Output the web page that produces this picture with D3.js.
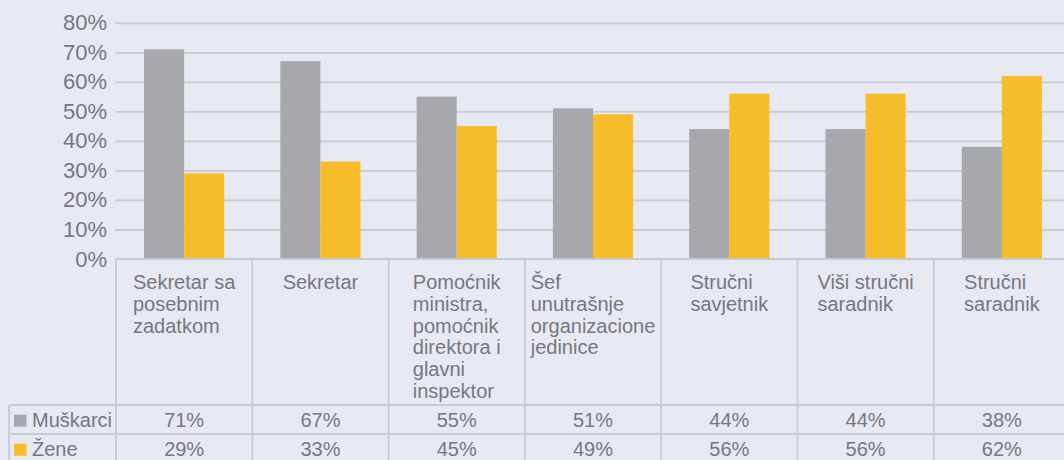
<!DOCTYPE html>
<html lang="bs">
<head>
<meta charset="utf-8">
<style>
  body { margin: 0; background: #e7e9f2; }
  svg { display: block; font-family: "Liberation Sans", Arial, sans-serif; }
  .axis text { fill: #77787b; font-size: 22px; }
  .axis path { display: none; }
  .axis line { stroke: #c9cacd; stroke-width: 1.8; }
  .cell { fill: #77787b; font-size: 20px; }
  .rule { stroke: #c9cacd; stroke-width: 1.8; }
</style>
<script src="https://d3js.org/d3.v7.min.js" charset="utf-8"></script>
</head>
<body>
<script>
  let categories = [
    ["Sekretar sa", "posebnim", "zadatkom"],
    ["Sekretar"],
    ["Pomoćnik", "ministra,", "pomoćnik", "direktora i", "glavni", "inspektor"],
    ["Šef", "unutrašnje", "organizacione", "jedinice"],
    ["Stručni", "savjetnik"],
    ["Viši stručni", "saradnik"],
    ["Stručni", "saradnik"]
  ];
  let seriesNames = ["Muškarci", "Žene"];
  let seriesColors = ["#a7a8ac", "#f6bc2a"];
  let muskarci = [71, 67, 55, 51, 44, 44, 38];
  let zene = [29, 33, 45, 49, 56, 56, 62];
  let yTicks = [0, 10, 20, 30, 40, 50, 60, 70, 80];

  let width = 1064;
  let height = 460;
  let left = 116;
  let right = 1070;
  let zeroY = 259;
  let topY = 22.8;
  let labelRowEnd = 405;
  let rowH = 29;

  let svg = d3.select("body")
    .append("svg")
    .attr("width", width)
    .attr("height", height);

  let keys = categories.map(function(d, i) { return i; });

  let x = d3.scaleBand()
    .domain(keys)
    .range([left, right])
    .padding(0);

  let x1 = d3.scaleBand()
    .domain(seriesNames)
    .range([0, x.bandwidth()])
    .paddingInner(0)
    .paddingOuter(0.7);

  let y = d3.scaleLinear()
    .domain([0, 80])
    .range([zeroY, topY]);

  // gridlines + tick labels
  svg.append("g")
    .attr("class", "axis")
    .attr("transform", "translate(" + (left - 1) + ",0)")
    .call(d3.axisLeft(y)
      .tickValues(yTicks)
      .tickFormat(function(d) { return d + "%"; })
      .tickSize(-(width - left + 1))
      .tickPadding(8))
    .call(function(g) { g.selectAll(".tick line").attr("x1", 0).filter(function(d) { return d === 0; }).remove(); });

  // bars
  let values = [muskarci, zene];
  let groups = svg.append("g")
    .selectAll("g")
    .data(keys)
    .join("g")
    .attr("transform", function(d) { return "translate(" + x(d) + ",0)"; });

  groups.selectAll("rect")
    .data(function(i) { return seriesNames.map(function(s, j) { return { s: s, j: j, v: values[j][i] }; }); })
    .join("rect")
    .attr("x", function(d) { return x1(d.s); })
    .attr("width", x1.bandwidth())
    .attr("y", function(d) { return y(d.v); })
    .attr("height", function(d) { return zeroY - y(d.v); })
    .attr("fill", function(d) { return seriesColors[d.j]; });

  // table rules
  let rules = svg.append("g");
  rules.append("line").attr("class", "rule")
    .attr("x1", left - 1).attr("x2", width).attr("y1", zeroY).attr("y2", zeroY);
  [labelRowEnd, labelRowEnd + rowH].forEach(function(yy) {
    rules.append("line").attr("class", "rule")
      .attr("x1", 9).attr("x2", width).attr("y1", yy).attr("y2", yy);
  });
  rules.append("line").attr("class", "rule")
    .attr("x1", 9).attr("x2", 9).attr("y1", labelRowEnd).attr("y2", height);
  keys.concat([keys.length]).forEach(function(i) {
    let xx = i < keys.length ? x(i) : right;
    rules.append("line").attr("class", "rule")
      .attr("x1", xx).attr("x2", xx).attr("y1", zeroY).attr("y2", height);
  });

  // category labels: left aligned lines, block centred in column
  keys.forEach(function(i) {
    let t = svg.append("text").attr("class", "cell");
    let spans = t.selectAll("tspan")
      .data(categories[i])
      .join("tspan")
      .attr("y", function(d, k) { return 289.3 + k * 21.7; })
      .text(function(d) { return d; });
    let maxW = d3.max(spans.nodes(), function(n) { return n.getComputedTextLength(); });
    spans.attr("x", x(i) + x.bandwidth() / 2 - maxW / 2);
  });

  // value rows
  values.forEach(function(arr, j) {
    let baseY = labelRowEnd + j * rowH + 21.7;
    svg.append("rect")
      .attr("x", 14).attr("y", baseY - 12).attr("width", 12.5).attr("height", 12)
      .attr("fill", seriesColors[j]);
    svg.append("text").attr("class", "cell")
      .attr("x", 32).attr("y", baseY)
      .text(seriesNames[j]);
    svg.append("g").selectAll("text")
      .data(arr)
      .join("text")
      .attr("class", "cell")
      .attr("text-anchor", "middle")
      .attr("x", function(d, i) { return x(i) + x.bandwidth() / 2; })
      .attr("y", baseY)
      .text(function(d) { return d + "%"; });
  });
</script>
</body>
</html>
